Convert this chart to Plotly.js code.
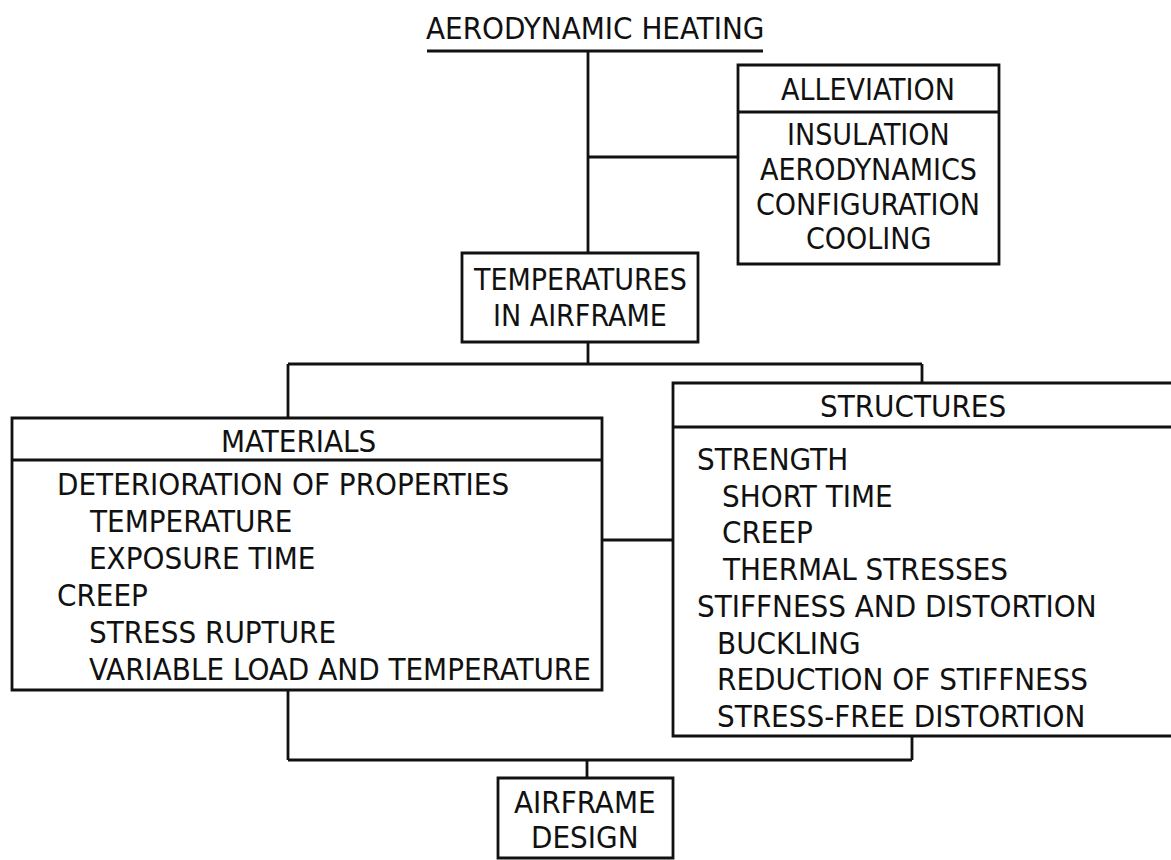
<!DOCTYPE html>
<html>
<head>
<meta charset="utf-8">
<script src="https://cdn.plot.ly/plotly-3.0.1.min.js"></script>
<style>html,body{margin:0;padding:0;background:#fff;}#chart{width:1171px;height:860px;}</style>
</head>
<body>
<div id="chart"></div>
<script>
// ---- data (text content of the flow chart) ----
const titleText = "AERODYNAMIC HEATING";
const alleviationHeader = "ALLEVIATION";
const alleviationItems = ["INSULATION", "AERODYNAMICS", "CONFIGURATION", "COOLING"];
const temperatureLines = ["TEMPERATURES", "IN AIRFRAME"];
const materialsHeader = "MATERIALS";
const materialsItems = ["DETERIORATION OF PROPERTIES", "TEMPERATURE", "EXPOSURE TIME", "CREEP", "STRESS RUPTURE", "VARIABLE LOAD AND TEMPERATURE"];
const materialsLevels = [0, 1, 1, 0, 1, 1];
const structuresHeader = "STRUCTURES";
const structuresItems = ["STRENGTH", "SHORT TIME", "CREEP", "THERMAL STRESSES", "STIFFNESS AND DISTORTION", "BUCKLING", "REDUCTION OF STIFFNESS", "STRESS-FREE DISTORTION"];
const structuresLevels = [0, 1, 1, 1, 0, 2, 2, 2];
const designLines = ["AIRFRAME", "DESIGN"];

// ---- layout / drawing ----
const FONT = {family: "'Liberation Sans Narrow', 'DejaVu Sans Condensed', 'Roboto Condensed', sans-serif", size: 31, color: "#111"};
const FONT_SMALL = Object.assign({}, FONT, {size: 30});
const LW = 2.8;
const shapes = [];
const annotations = [];

function line(x0, y0, x1, y1) {
  shapes.push({type: "line", xref: "x", yref: "y", x0, y0, x1, y1, line: {color: "#111", width: LW}});
}
function rect(x0, y0, x1, y1) {
  shapes.push({type: "rect", xref: "x", yref: "y", x0, y0, x1, y1, line: {color: "#111", width: LW}, fillcolor: "rgba(0,0,0,0)"});
}
function text(t, x, y, anchor, font) {
  annotations.push({text: t, x, y, xref: "x", yref: "y", xanchor: anchor || "center", yanchor: "middle",
    showarrow: false, font: font || FONT, borderpad: 0});
}

// title
text(titleText, 595, 28);
line(427, 51, 763, 51);
line(588, 51, 588, 253);
line(588, 157, 738, 157);

// alleviation box
rect(738, 65, 999, 264);
line(738, 112, 999, 112);
text(alleviationHeader, 868, 89, "center", FONT_SMALL);
const allevY = [134, 169, 204, 238];
alleviationItems.forEach((t, i) => text(t, 868, allevY[i], "center", FONT_SMALL));

// temperatures box
rect(462, 253, 698, 342);
temperatureLines.forEach((t, i) => text(t, 580, [279, 315][i], "center", FONT_SMALL));

// split to materials / structures
line(588, 342, 588, 364);
line(288, 364, 922, 364);
line(288, 364, 288, 418);
line(922, 364, 922, 383);

// materials box
rect(12, 418, 602, 690);
line(12, 460, 602, 460);
text(materialsHeader, 298, 441);
const matIndent = [56, 88];
materialsItems.forEach((t, i) => text(t, matIndent[materialsLevels[i]], 484 + i * 37, "left"));

// materials - structures connector
line(602, 540, 673, 540);

// structures box
rect(673, 383, 1190, 736);
line(673, 427, 1190, 427);
text(structuresHeader, 913, 406);
const strIndent = [696, 721, 716];
structuresItems.forEach((t, i) => text(t, strIndent[structuresLevels[i]], 459 + i * 36.7, "left"));

// bottom join
line(288, 690, 288, 760);
line(912, 736, 912, 760);
line(288, 760, 912, 760);
line(587, 760, 587, 778);

// airframe design box
rect(498, 778, 673, 858);
designLines.forEach((t, i) => text(t, 585, [802, 837][i]));

const layout = {
  width: 1171, height: 860,
  margin: {l: 0, r: 0, t: 0, b: 0},
  paper_bgcolor: "#fff", plot_bgcolor: "#fff",
  xaxis: {range: [0, 1171], visible: false, fixedrange: true},
  yaxis: {range: [860, 0], visible: false, fixedrange: true},
  showlegend: false,
  shapes, annotations
};
Plotly.newPlot("chart", [{x: [], y: [], type: "scatter", mode: "markers", hoverinfo: "skip"}], layout, {staticPlot: true, displayModeBar: false});
</script>
</body>
</html>
